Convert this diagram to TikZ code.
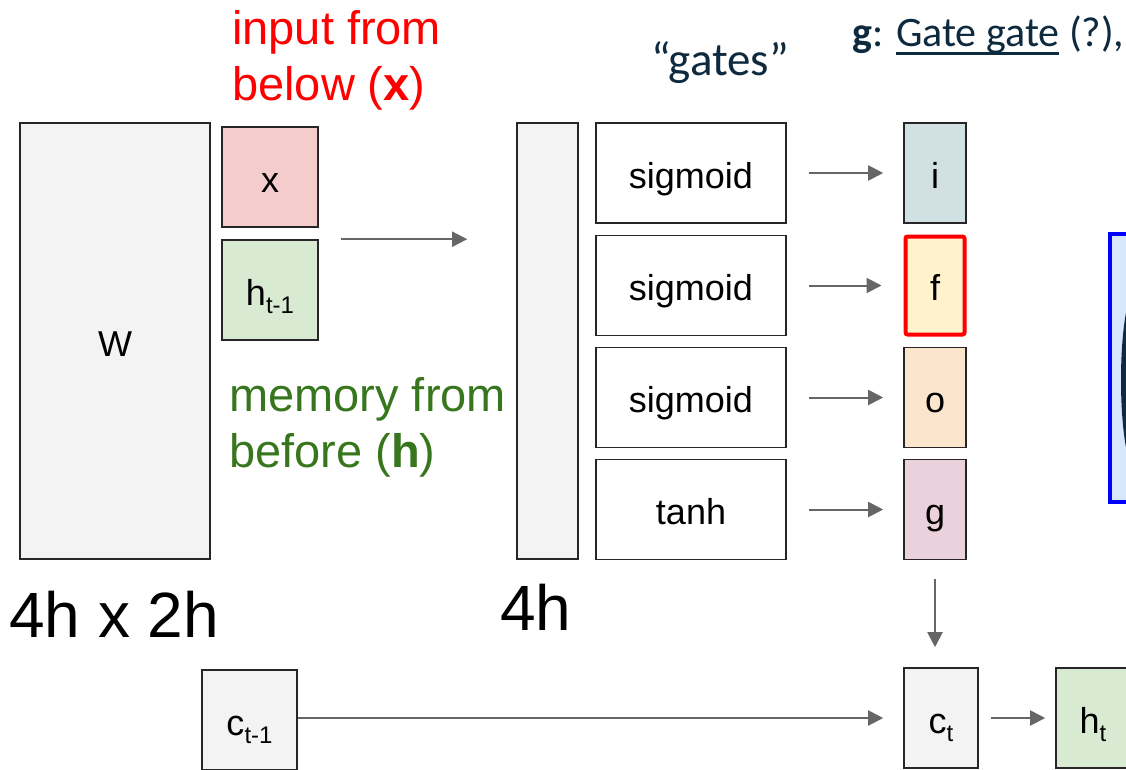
\documentclass[tikz,border=0pt]{standalone}
\usepackage{fontspec}
\setmainfont{Liberation Sans}
\newfontfamily\calib{Carlito}
\usetikzlibrary{positioning, arrows.meta, calc}

\definecolor{boxgray}{HTML}{F3F3F3}
\definecolor{xred}{HTML}{F4CCCC}
\definecolor{hgreen}{HTML}{D9EAD3}
\definecolor{ifill}{HTML}{D0E0E3}
\definecolor{ffill}{HTML}{FFF2CC}
\definecolor{ofill}{HTML}{FCE5CD}
\definecolor{gfill}{HTML}{EAD1DC}
\definecolor{eqfill}{HTML}{D7E6FB}
\definecolor{arrowgray}{HTML}{666666}
\definecolor{memgreen}{HTML}{38761D}
\definecolor{navy}{HTML}{0E2A3E}

% lowered small text for subscripts
\newcommand{\lowsub}[1]{\raisebox{-8pt}{\fontsize{24}{24}\selectfont #1}}
% thick underline
\newcommand{\thickul}[1]{\setbox0\hbox{#1}\rlap{\rule[-8.5pt]{\wd0}{2.6pt}}\box0\relax}

\begin{document}
\begin{tikzpicture}[
		x=1pt, y=-1pt,
		>={Triangle[length=15pt, width=15pt]},
		% Plain boxes
		cell/.style={
				rectangle, draw=black!85, line width=1.6pt,
				fill=#1, inner sep=0pt, text height=34pt, text depth=4pt,
				font=\fontsize{36}{43}\selectfont
			},
		% Arrows
		flow/.style={->, line width=2pt, draw=arrowgray},
		% Free texts
		note/.style={anchor=base west, inner sep=0pt, align=left, font=\fontsize{47}{56}\selectfont},
		dimlabel/.style={anchor=base west, inner sep=0pt, font=\fontsize{64}{70}\selectfont}
	]

	\useasboundingbox (0,0) rectangle (1126,769);

	% ==========================================
	% 1. WEIGHTS AND INPUTS
	% ==========================================

	\node[cell=boxgray, minimum width=190pt, minimum height=436pt] (W) at (115,341) {W};
	\node[cell=xred, minimum width=96pt, minimum height=100pt] (x) at (270,177) {x};
	\node[cell=hgreen, minimum width=96pt, minimum height=100pt] (hprev) at (270,290) {h\lowsub{t-1}};

	% base anchor sits on the last line
	\node[note, text=red] (inlabel) at (232,100) {input from\\below (\textbf{x})};
	\node[note, text=memgreen] (memlabel) at (229,467) {memory from\\before (\textbf{h})};

	\node[dimlabel] (wdim) at (9,637) {4h x 2h};

	% ==========================================
	% 2. PRODUCT COLUMN AND NONLINEARITIES
	% ==========================================

	\node[cell=boxgray, minimum width=61pt, minimum height=436pt] (col) at (547.5,341) {};
	\node[dimlabel] (coldim) at (500,630) {4h};

	\node[cell=white, minimum width=190pt, minimum height=100pt] (sig1) at (691,173) {sigmoid};
	\node[cell=white, minimum width=190pt, minimum height=100pt] (sig2) at (691,285.5) {sigmoid};
	\node[cell=white, minimum width=190pt, minimum height=100pt] (sig3) at (691,397.5) {sigmoid};
	\node[cell=white, minimum width=190pt, minimum height=100pt] (tanh) at (691,509.5) {tanh};

	\node[anchor=base west, inner sep=0pt, text=navy, font=\calib\fontsize{47}{52}\selectfont]
	(gateslabel) at (651,75) {“gates”};

	% ==========================================
	% 3. GATES
	% ==========================================

	\node[cell=ifill, minimum width=62pt, minimum height=100pt] (gi) at (935,173) {i};
	\node[cell=ffill, draw=red, line width=4pt, minimum width=59pt, minimum height=98pt, rounded corners=2pt] (gf) at (935,285.5) {f};
	\node[cell=ofill, minimum width=62pt, minimum height=100pt] (go) at (935,397.5) {o};
	\node[cell=gfill, minimum width=62pt, minimum height=100pt] (gg) at (935,509.5) {g};

	\node[anchor=base west, inner sep=0pt, text=navy, font=\calib\fontsize{42}{48}\selectfont]
	(gatenote) at (852,46) {\textbf{g}: \thickul{Gate gate} (?),};

	% Equation box cut by the right edge
	\node[rectangle, draw=blue, line width=4pt, fill=eqfill, minimum width=100pt, minimum height=268pt] (eqbox) at (1160,368) {};
	\fill[navy] (1130,297) .. controls (1118,330) and (1118,430) .. (1130,463) -- cycle;

	% ==========================================
	% 4. CELL STATE
	% ==========================================

	\node[cell=boxgray, minimum width=95pt, minimum height=100pt] (cprev) at (249.5,720) {c\lowsub{t-1}};
	\node[cell=boxgray, minimum width=74pt, minimum height=100pt] (ct) at (941,718) {c\lowsub{t}};
	\node[cell=hgreen, minimum width=74pt, minimum height=100pt] (ht) at (1093,718) {h\lowsub{t}};

	% ==========================================
	% 5. ARROWS
	% ==========================================

	\draw[flow] ([xshift=22pt]hprev.north east) -- ($(col.west |- hprev.north)+(-49,0)$);

	\draw[flow] ([xshift=22pt]sig1.east) -- ([xshift=-20pt]gi.west);
	\draw[flow] ([xshift=22pt]sig2.east) -- ([xshift=-22pt]gf.west);
	\draw[flow] ([xshift=22pt]sig3.east) -- ([xshift=-20pt]go.west);
	\draw[flow] ([xshift=22pt]tanh.east) -- ([xshift=-20pt]gg.west);

	\draw[flow] ([yshift=-19pt]gg.south) -- ($(gg.south |- ct.north)+(0,-20)$);

	\draw[flow] (cprev.east |- ct.west) -- ([xshift=-20pt]ct.west);
	\draw[flow] ([xshift=12pt]ct.east) -- ([xshift=-10pt]ht.west);

\end{tikzpicture}
\end{document}
